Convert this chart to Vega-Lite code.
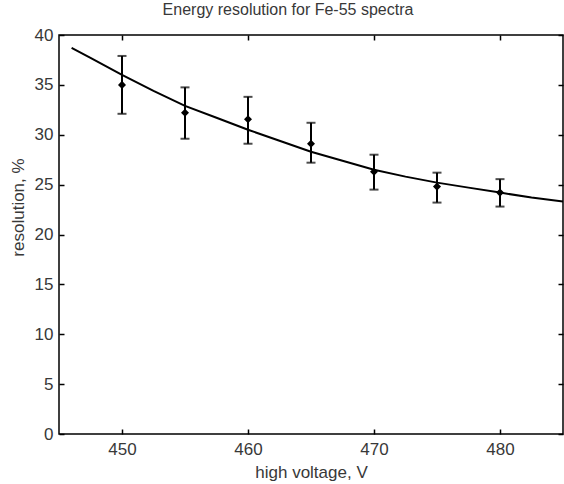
{
  "$schema": "https://vega.github.io/schema/vega-lite/v6.json",
  "width": 504,
  "height": 399,
  "autosize": {"type": "none"},
  "padding": {"left": 59, "top": 35, "right": 1, "bottom": 50},
  "background": "white",
  "title": {"text": "Energy resolution for Fe-55 spectra", "anchor": "middle", "dx": -23, "offset": 8, "fontSize": 16, "font": "Liberation Sans", "fontWeight": "normal", "color": "#383838"},
  "datasets": {
    "points": [
      {"v": 450, "r": 35.0, "lo": 32.1, "hi": 37.9},
      {"v": 455, "r": 32.2, "lo": 29.6, "hi": 34.75},
      {"v": 460, "r": 31.55, "lo": 29.1, "hi": 33.8},
      {"v": 465, "r": 29.1, "lo": 27.2, "hi": 31.2},
      {"v": 470, "r": 26.3, "lo": 24.5, "hi": 28.0},
      {"v": 475, "r": 24.8, "lo": 23.2, "hi": 26.2},
      {"v": 480, "r": 24.2, "lo": 22.8, "hi": 25.55}
    ],
    "fit": [
      {"v": 446, "r": 38.7},
      {"v": 447.5, "r": 37.7},
      {"v": 450, "r": 36.0},
      {"v": 452.5, "r": 34.4},
      {"v": 455, "r": 32.9},
      {"v": 457.5, "r": 31.7},
      {"v": 460, "r": 30.5},
      {"v": 462.5, "r": 29.4},
      {"v": 465, "r": 28.3},
      {"v": 467.5, "r": 27.4},
      {"v": 470, "r": 26.5},
      {"v": 472.5, "r": 25.8},
      {"v": 475, "r": 25.2},
      {"v": 477.5, "r": 24.7},
      {"v": 480, "r": 24.2},
      {"v": 482.5, "r": 23.7},
      {"v": 485, "r": 23.3}
    ]
  },
  "config": {
    "view": {"stroke": "#000", "strokeWidth": 1.5},
    "axis": {"domain": false, "grid": false, "tickColor": "#000", "tickWidth": 1.5, "tickSize": -5, "labelFont": "Liberation Sans", "labelFontSize": 17, "labelColor": "#383838", "titleFont": "Liberation Sans", "titleFontSize": 17, "titleFontWeight": "normal", "titleColor": "#383838"}
  },
  "resolve": {"axis": {"x": "independent", "y": "independent"}},
  "layer": [
    {
      "data": {"name": "fit"},
      "mark": {"type": "line", "color": "#000", "strokeWidth": 2, "clip": true},
      "encoding": {
        "x": {"field": "v", "type": "quantitative", "scale": {"domain": [445, 485], "nice": false, "zero": false},
              "axis": {"orient": "bottom", "values": [450, 460, 470, 480], "title": "high voltage, V", "labelPadding": 12, "titleY": 38, "titleBaseline": "middle"}},
        "y": {"field": "r", "type": "quantitative", "scale": {"domain": [0, 40], "nice": false},
              "axis": {"orient": "left", "values": [0, 5, 10, 15, 20, 25, 30, 35, 40], "title": "resolution, %", "labelPadding": 11, "titleX": -41, "titleY": 172, "titleBaseline": "middle", "titleAlign": "center", "titleAngle": -90}}
      }
    },
    {
      "data": {"name": "points"},
      "mark": {"type": "rule", "color": "#000", "strokeWidth": 2},
      "encoding": {
        "x": {"field": "v", "type": "quantitative", "axis": null},
        "y": {"field": "lo", "type": "quantitative", "axis": null},
        "y2": {"field": "hi"}
      }
    },
    {
      "data": {"name": "points"},
      "mark": {"type": "tick", "color": "#000", "thickness": 2, "size": 9, "orient": "horizontal"},
      "encoding": {
        "x": {"field": "v", "type": "quantitative", "axis": null},
        "y": {"field": "lo", "type": "quantitative", "axis": null}
      }
    },
    {
      "data": {"name": "points"},
      "mark": {"type": "tick", "color": "#000", "thickness": 2, "size": 9, "orient": "horizontal"},
      "encoding": {
        "x": {"field": "v", "type": "quantitative", "axis": null},
        "y": {"field": "hi", "type": "quantitative", "axis": null}
      }
    },
    {
      "data": {"name": "points"},
      "mark": {"type": "point", "shape": "diamond", "filled": true, "color": "#000", "size": 65, "opacity": 1},
      "encoding": {
        "x": {"field": "v", "type": "quantitative", "axis": {"orient": "top", "values": [450, 460, 470, 480], "labels": false, "title": null}},
        "y": {"field": "r", "type": "quantitative", "axis": {"orient": "right", "values": [0, 5, 10, 15, 20, 25, 30, 35, 40], "labels": false, "title": null}}
      }
    }
  ]
}
